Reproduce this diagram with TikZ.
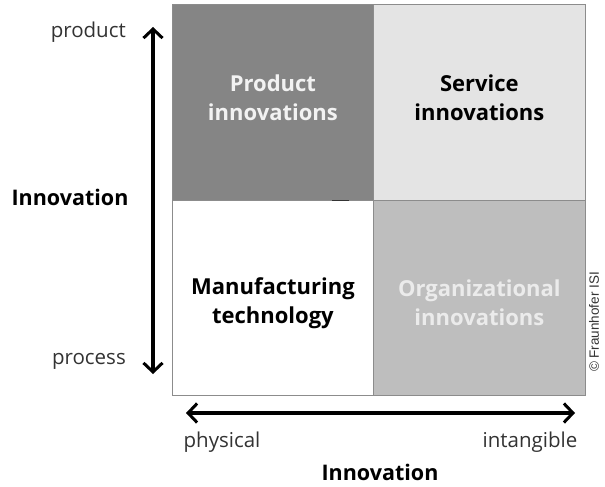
\documentclass[tikz,border=0pt]{standalone}
\usepackage{fontspec}
\setmainfont{Open Sans}
\newfontfamily\notefont{Liberation Sans}
\usetikzlibrary{arrows.meta}
\definecolor{darkq}{HTML}{858585}
\definecolor{lightq}{HTML}{E4E4E4}
\definecolor{midq}{HTML}{BEBEBE}
\definecolor{edgeq}{HTML}{8C8C8C}
\definecolor{labelg}{HTML}{333333}
\begin{document}
\begin{tikzpicture}[x=1pt,y=-1pt,
  quad/.style={draw=edgeq, line width=0.8pt, anchor=north west, inner sep=0pt},
  quadtext/.style={inner sep=0pt, align=center, font=\fontsize{22}{29}\selectfont\bfseries},
  axis/.style={line width=3.4pt, {Straight Barb[length=9pt,width=19pt,line width=3pt]}-{Straight Barb[length=9pt,width=19pt,line width=3pt]}},
  endlabel/.style={font=\fontsize{20.5}{22}\selectfont, text=labelg, inner sep=0pt},
  axlabel/.style={font=\fontsize{21.5}{22}\selectfont\bfseries, inner sep=0pt}
]
\useasboundingbox[fill=white] (0,0) rectangle (605,487);

% quadrants
\node[quad, fill=darkq, minimum width=201pt, minimum height=196pt] (prod) at (172,4) {};
\node[quad, fill=lightq, minimum width=212pt, minimum height=196pt] (serv) at (373,4) {};
\node[quad, fill=white, minimum width=201pt, minimum height=195pt] (manu) at (172,200) {};
\node[quad, fill=midq, minimum width=212pt, minimum height=195pt] (orga) at (373,200) {};
\draw[line width=1.2pt, black!80] ([xshift=-25pt]prod.south east) -- ([xshift=-42pt]prod.south east);

% quadrant captions
\node[quadtext, text=white!95!black] (tprod) at ([yshift=5pt]prod.center) {Product\\innovations};
\node[quadtext, text=black] (tserv) at ([yshift=5pt]serv.center) {Service\\innovations};
\node[quadtext, text=black] (tmanu) at ([yshift=-5pt]manu.center) {Manufacturing\\technology};
\node[quadtext, text=white!92!black] (torga) at ([yshift=-5pt]orga.center) {Organizational\\innovations};

% vertical axis
\coordinate (vtop) at (153,27);
\coordinate (vbot) at (153,374);
\draw[axis] (vbot) -- (vtop);
\node[endlabel, anchor=east] (lprod) at (126,32) {product};
\node[endlabel, anchor=east] (lproc) at (126,361) {process};
\node[axlabel] (lvert) at (70,197) {Innovation};

% horizontal axis
\coordinate (hleft) at (186,413);
\coordinate (hright) at (575,413);
\draw[axis] (hleft) -- (hright);
\node[endlabel] (lphys) at (222,442) {physical};
\node[endlabel] (lint) at (530,442) {intangible};
\node[axlabel] (lhor) at (380,472) {Innovation};

% copyright
\node[rotate=90, font=\notefont\fontsize{13.5}{14}\selectfont, text=labelg, inner sep=0pt] (copy) at (594,322) {© Fraunhofer ISI};
\end{tikzpicture}
\end{document}
